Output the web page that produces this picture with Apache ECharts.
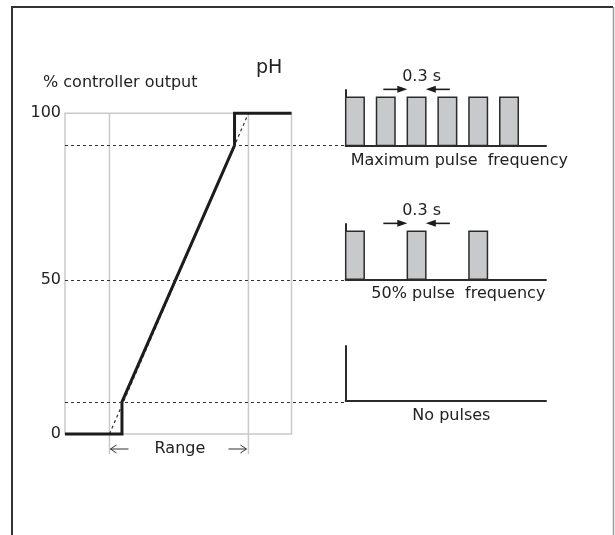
<!DOCTYPE html>
<html><head><meta charset="utf-8">
<script src="https://cdn.jsdelivr.net/npm/echarts@6/dist/echarts.min.js"></script>
<style>html,body{margin:0;padding:0;background:#fff}#c{width:615px;height:535px}</style>
</head><body><div id="c"></div>
<script>
// ---------- data ----------
const outputLevels = [90, 48, 10];          // % output at which each pulse regime is reached
const yTickValues = [0, 48, 100];           // where the tick labels sit on the drawing
const yTickLabels = ['0', '50', '100'];
const controlPH  = [-32, 9, 9, 90, 90, 131]; // controller characteristic (pH axis, arbitrary units, range 0..100)
const controlOut = [0, 0, 10, 90, 100, 100];
const idealPH  = [0, 100];
const idealOut = [0, 100];
const rangeSpan = [0, 100];
const boxSpan = [-32, 131];
const pulseWidth = 0.3;                       // s
const maxPulseStarts  = [0, 0.5, 1.0, 1.5, 2.0, 2.5];
const halfPulseStarts = [0, 1.0, 2.0];
const noPulseStarts   = [];
const widthMark = [1.0, 1.3];                 // pulse shown with the 0.3 s arrows
const panelNames = ['Maximum pulse  frequency', '50% pulse  frequency', 'No pulses'];

// ---------- styles ----------
const FONT = 'DejaVu Sans';
const INK = '#222';
const LINE = '#1c1c1c';
const GREY = '#c9c9c9';

const chart = echarts.init(document.getElementById('c'), null, {renderer: 'canvas'});

function pulseItem(params, api) {
  const a = api.coord([api.value(0), 1]);
  const b = api.coord([api.value(1), 0]);
  return {type: 'rect', shape: {x: a[0], y: a[1], width: b[0] - a[0], height: b[1] - a[1]},
    style: {fill: '#c8c9cb', stroke: '#2b2b2b', lineWidth: 1.5}};
}
function widthMarkItem(params, api) {
  const p1 = api.coord([api.value(0), 1.163]);
  const p2 = api.coord([api.value(1), 1.163]);
  const y = p1[1], x1 = p1[0], x2 = p2[0];
  const st = {stroke: LINE, lineWidth: 1.6};
  return {type: 'group', children: [
    {type: 'line', shape: {x1: x1 - 24, y1: y, x2: x1 - 8, y2: y}, style: st},
    {type: 'polygon', shape: {points: [[x1, y], [x1 - 10, y - 3.5], [x1 - 10, y + 3.5]]}, style: {fill: LINE}},
    {type: 'line', shape: {x1: x2 + 8, y1: y, x2: x2 + 24, y2: y}, style: st},
    {type: 'polygon', shape: {points: [[x2, y], [x2 + 10, y - 3.5], [x2 + 10, y + 3.5]]}, style: {fill: LINE}},
    {type: 'text', style: {text: '0.3 s', x: (x1 + x2) / 2 + 5, y: y - 5, align: 'center', verticalAlign: 'bottom',
      font: '16px "' + FONT + '"', fill: INK}}
  ]};
}
function frameItem(params, api) {
  const a = api.coord([api.value(0), 100]);
  const b = api.coord([api.value(1), 0]);
  const r0t = api.coord([api.value(2), 100]);
  const r0b = api.coord([api.value(2), 0]);
  const r1t = api.coord([api.value(3), 100]);
  const st = {stroke: GREY, lineWidth: 1.5, fill: null};
  return {type: 'group', children: [
    {type: 'rect', shape: {x: a[0], y: a[1], width: b[0] - a[0], height: b[1] - a[1]}, style: st},
    {type: 'line', shape: {x1: r0t[0], y1: r0t[1], x2: r0t[0], y2: r0b[1] + 20}, style: st},
    {type: 'line', shape: {x1: r1t[0], y1: r1t[1], x2: r1t[0], y2: r0b[1] + 20}, style: st}
  ]};
}
function rangeItem(params, api) {
  const s = api.coord([api.value(0), 0]);
  const e = api.coord([api.value(1), 0]);
  const y = s[1] + 15, xs = s[0], xe = e[0];
  const st = {stroke: '#333', lineWidth: 1, fill: null};
  return {type: 'group', children: [
    {type: 'line', shape: {x1: xs + 1, y1: y, x2: xs + 19, y2: y}, style: st},
    {type: 'polyline', shape: {points: [[xs + 7, y - 4], [xs + 1, y], [xs + 7, y + 4]]}, style: st},
    {type: 'line', shape: {x1: xe - 20, y1: y, x2: xe - 2, y2: y}, style: st},
    {type: 'polyline', shape: {points: [[xe - 8, y - 4], [xe - 2, y], [xe - 8, y + 4]]}, style: st},
    {type: 'text', style: {text: 'Range', x: (xs + xe) / 2 + 1, y: y, align: 'center', verticalAlign: 'middle',
      font: '16px "' + FONT + '"', fill: INK}}
  ]};
}

const panelTops = [90, 224, 346];
const panelHeights = [55.5, 55.3, 55];
const nameGaps = [7, 6.5, 7];
const namePads = [27, 25, 11];

const grids = [{left: 65, top: 113.3, width: 280.7, height: 320.7}];
const xAxes = [{gridIndex: 0, type: 'value', min: -32, max: 170, show: false}];
const yAxes = [{gridIndex: 0, type: 'value', min: 0, max: 100,
  axisLine: {show: false}, axisTick: {show: false}, splitLine: {show: false},
  axisLabel: {customValues: yTickValues, margin: 4, color: INK, fontFamily: FONT, fontSize: 16,
    formatter: v => yTickLabels[yTickValues.indexOf(v)] ?? ''}}];
for (let i = 0; i < 3; i++) {
  grids.push({left: 345.7, top: panelTops[i], width: 200.3, height: panelHeights[i]});
  xAxes.push({gridIndex: i + 1, type: 'value', min: 0, max: 3.25,
    axisLine: {show: true, lineStyle: {color: '#2b2b2b', width: 2}}, axisTick: {show: false},
    axisLabel: {show: false}, splitLine: {show: false},
    name: panelNames[i], nameLocation: 'middle', nameGap: nameGaps[i],
    nameTextStyle: {fontFamily: FONT, fontSize: 16, color: INK, verticalAlign: 'top', padding: [0, 0, 0, namePads[i]]}});
  yAxes.push({gridIndex: i + 1, type: 'value', min: 0, max: 1.15,
    axisLine: {show: true, onZero: false, lineStyle: {color: '#2b2b2b', width: 2}}, axisTick: {show: false},
    axisLabel: {show: false}, splitLine: {show: false}});
}

const pulseSets = [maxPulseStarts, halfPulseStarts, noPulseStarts];
const series = [
  {type: 'custom', xAxisIndex: 0, yAxisIndex: 0, renderItem: frameItem, silent: true, z: 1,
    data: [[boxSpan[0], boxSpan[1], rangeSpan[0], rangeSpan[1]]]},
  {type: 'line', xAxisIndex: 0, yAxisIndex: 0, data: [], silent: true, z: 2,
    markLine: {symbol: 'none', silent: true, label: {show: false},
      lineStyle: {type: [3, 3], color: '#333', width: 1},
      data: outputLevels.map(v => ({yAxis: v}))}},
  {type: 'line', xAxisIndex: 0, yAxisIndex: 0, showSymbol: false, silent: true, z: 3, clip: false,
    lineStyle: {type: [3, 3], color: '#333', width: 1.2},
    data: idealPH.map((x, i) => [x, idealOut[i]])},
  {type: 'line', xAxisIndex: 0, yAxisIndex: 0, showSymbol: false, silent: true, z: 4, clip: false,
    lineStyle: {color: LINE, width: 3, join: 'miter', cap: 'butt'},
    data: controlPH.map((x, i) => [x, controlOut[i]])},
  {type: 'custom', xAxisIndex: 0, yAxisIndex: 0, renderItem: rangeItem, silent: true, z: 5,
    data: [[rangeSpan[0], rangeSpan[1]]]}
];
pulseSets.forEach((starts, i) => {
  series.push({type: 'custom', xAxisIndex: i + 1, yAxisIndex: i + 1, renderItem: pulseItem, silent: true, z: 3,
    data: starts.map(s => [s, s + pulseWidth])});
});
[0, 1].forEach(i => {
  series.push({type: 'custom', xAxisIndex: i + 1, yAxisIndex: i + 1, renderItem: widthMarkItem, silent: true, z: 4,
    data: [widthMark]});
});

chart.setOption({
  animation: false,
  backgroundColor: '#fff',
  title: [
    {text: '% controller output', left: 43, top: 75, padding: 0,
      textStyle: {fontFamily: FONT, fontSize: 16, fontWeight: 'normal', color: INK}},
    {text: 'pH', left: 256, top: 59, padding: 0,
      textStyle: {fontFamily: FONT, fontSize: 19, fontWeight: 'normal', color: INK}}
  ],
  graphic: [
    {type: 'polyline', silent: true, shape: {points: [[12, 535], [12, 7], [613, 7]]}, style: {stroke: '#333', lineWidth: 2, fill: null}},
    {type: 'line', silent: true, shape: {x1: 613.5, y1: 7, x2: 613.5, y2: 535}, style: {stroke: '#9a9a9a', lineWidth: 1.5}}
  ],
  grid: grids,
  xAxis: xAxes,
  yAxis: yAxes,
  series: series
});
</script>
</body></html>
